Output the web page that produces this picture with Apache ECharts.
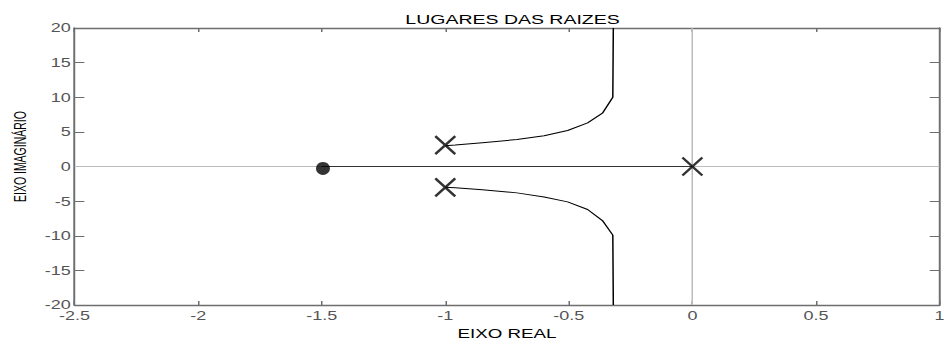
<!DOCTYPE html>
<html>
<head>
<meta charset="utf-8">
<script src="https://cdn.jsdelivr.net/npm/echarts@6/dist/echarts.min.js"></script>
<style>
html,body{margin:0;padding:0;background:#fff;overflow:hidden;}
#wrap{width:949px;height:345px;overflow:hidden;}
#c{width:632.667px;height:345px;transform:scaleX(1.5);transform-origin:0 0;}
</style>
</head>
<body>
<div id="wrap"><div id="c"></div></div>
<script>
// Data
const upperBranchX = [-1.0, -0.96, -0.85, -0.71, -0.60, -0.505, -0.424, -0.364, -0.322, -0.32];
const upperBranchY = [3.0, 3.1, 3.45, 3.9, 4.45, 5.2, 6.3, 7.7, 10.0, 20.0];
const lowerBranchX = [-1.0, -0.96, -0.85, -0.71, -0.60, -0.505, -0.424, -0.364, -0.322, -0.32];
const lowerBranchY = [-3.0, -3.05, -3.35, -3.8, -4.4, -5.1, -6.2, -7.8, -9.9, -20.0];
const realBranchX = [-1.5, 0.0];
const realBranchY = [0.0, 0.0];
const polesX = [0.0, -1.0, -1.0];
const polesY = [0.0, 3.1, -3.0];
const zerosX = [-1.495];
const zerosY = [-0.28];
const xTicks = [-2.5, -2, -1.5, -1, -0.5, 0, 0.5, 1];
const yTicks = [-20, -15, -10, -5, 0, 5, 10, 15, 20];

const zip = (a, b) => a.map((v, i) => [v, b[i]]);
const axisGray = '#6e6e6e';
const labelGray = '#555';
const font = 'Liberation Sans, Arial, sans-serif';

const chart = echarts.init(document.getElementById('c'), null, {renderer: 'svg', width: 632.667, height: 345});
const baseX = {
  type: 'value', min: -2.5, max: 1, interval: 0.5,
  axisLine: {show: true, onZero: false, lineStyle: {color: axisGray, width: 1.3}},
  axisTick: {show: true, inside: true, length: 4, lineStyle: {color: axisGray}},
  splitLine: {show: false}
};
const baseY = {
  type: 'value', min: -20, max: 20, interval: 5,
  axisLine: {show: true, onZero: false, lineStyle: {color: axisGray, width: 1.3}},
  axisTick: {show: true, inside: true, length: 6.5, lineStyle: {color: axisGray}},
  splitLine: {show: false}
};
chart.setOption({
  animation: false,
  backgroundColor: '#fff',
  title: {
    text: 'LUGARES DAS RAIZES', left: 336.7, top: 8, textAlign: 'center',
    textStyle: {fontFamily: font, fontSize: 13, fontWeight: 'normal', color: '#000'}
  },
  grid: {left: 46.667, right: 3.333, top: 28, bottom: 35.5, containLabel: false},
  xAxis: [
    Object.assign({}, baseX, {
      position: 'bottom',
      name: 'EIXO REAL', nameLocation: 'middle', nameGap: 18,
      nameTextStyle: {fontFamily: font, fontSize: 12.5, color: '#000', verticalAlign: 'top'},
      axisLabel: {
        show: true, margin: 5, color: labelGray, fontFamily: font, fontSize: 12,
        formatter: v => String(xTicks.find(t => Math.abs(t - v) < 1e-9) ?? v)
      }
    }),
    Object.assign({}, baseX, {position: 'top', axisLabel: {show: false}})
  ],
  yAxis: [
    Object.assign({}, baseY, {
      position: 'left',
      name: 'EIXO IMAGINÁRIO', nameLocation: 'middle', nameGap: 29,
      nameTextStyle: {fontFamily: 'Liberation Sans Narrow, Arial Narrow, sans-serif', fontSize: 10.5, color: '#000', padding: [0, 0, 0, 20]},
      axisLabel: {
        show: true, margin: 2.5, color: labelGray, fontFamily: font, fontSize: 12,
        formatter: v => String(yTicks.find(t => Math.abs(t - v) < 1e-9) ?? v)
      }
    }),
    Object.assign({}, baseY, {position: 'right', axisLabel: {show: false}})
  ],
  series: [
    {
      type: 'line', data: zip(realBranchX, realBranchY), showSymbol: false, silent: true,
      lineStyle: {color: '#333', width: 1}, z: 3,
      markLine: {
        silent: true, symbol: 'none', label: {show: false},
        lineStyle: {color: '#bcbcbc', width: 1, type: 'solid'},
        data: [{xAxis: 0}, {yAxis: 0}], z: 1
      }
    },
    {
      type: 'line', data: zip(upperBranchX, upperBranchY), showSymbol: false, silent: true,
      lineStyle: {color: '#000', width: 1}, z: 3
    },
    {
      type: 'line', data: zip(lowerBranchX, lowerBranchY), showSymbol: false, silent: true,
      lineStyle: {color: '#000', width: 1}, z: 3
    },
    {
      type: 'scatter', data: zip(polesX, polesY), silent: true,
      symbol: 'path://M0,0L10,10M10,0L0,10', symbolSize: [13.3, 18], symbolKeepAspect: false,
      itemStyle: {color: 'none', borderColor: '#000', borderWidth: 2}, z: 5
    },
    {
      type: 'scatter', data: zip(zerosX, zerosY), silent: true,
      symbol: 'circle', symbolSize: [9.3, 13],
      itemStyle: {color: '#000'}, z: 5
    }
  ]
});
</script>
</body>
</html>
